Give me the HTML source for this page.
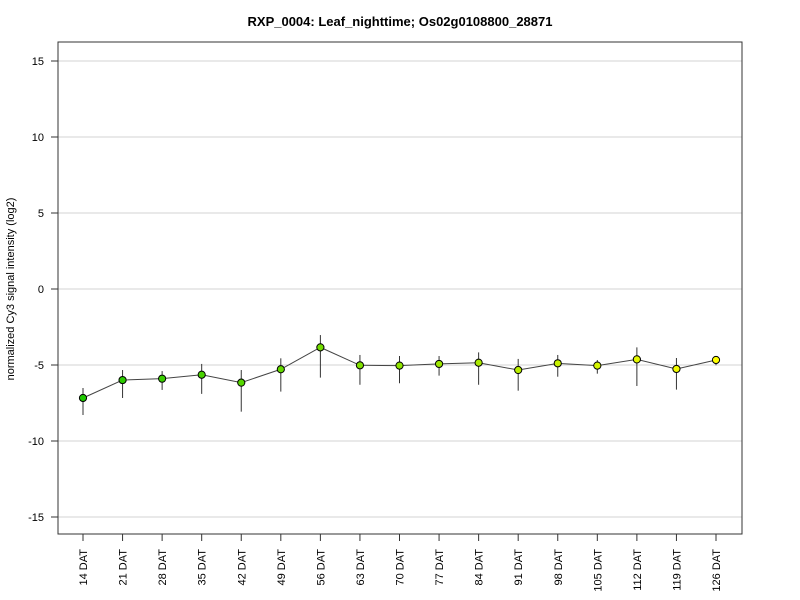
<!DOCTYPE html>
<html><head><meta charset="utf-8"><style>body{margin:0;background:#fff}svg{display:block;font-family:"Liberation Sans",Arial,sans-serif}</style></head>
<body>
<svg id="chart" width="800" height="600">
<text x="400" y="26" text-anchor="middle" font-size="13" font-weight="bold">RXP_0004: Leaf_nighttime; Os02g0108800_28871</text>
<text transform="translate(14,289) rotate(-90)" text-anchor="middle" font-size="11">normalized Cy3 signal intensity (log2)</text>
<g id="grid"></g><g id="axes"></g><g id="series"></g>
<rect x="58" y="42" width="684" height="492" fill="none" stroke="#333" stroke-width="1"/>
</svg>
<script>
const categories=["14 DAT","21 DAT","28 DAT","35 DAT","42 DAT","49 DAT","56 DAT","63 DAT","70 DAT","77 DAT","84 DAT","91 DAT","98 DAT","105 DAT","112 DAT","119 DAT","126 DAT"];
const values=[-7.17,-5.99,-5.9,-5.64,-6.16,-5.28,-3.84,-5.02,-5.04,-4.93,-4.85,-5.33,-4.89,-5.04,-4.63,-5.26,-4.67];
const errHigh=[-6.51,-5.33,-5.4,-4.93,-5.33,-4.56,-3.03,-4.34,-4.41,-4.41,-4.17,-4.6,-4.34,-4.67,-3.84,-4.54,-4.41];
const errLow=[-8.29,-7.17,-6.64,-6.9,-8.07,-6.75,-5.83,-6.3,-6.2,-5.7,-6.3,-6.69,-5.77,-5.57,-6.38,-6.62,-5.02];
const yTicks=[-15,-10,-5,0,5,10,15];
const NS="http://www.w3.org/2000/svg";
function x(i){return 83+i*(716-83)/(categories.length-1);}
function y(v){return 289-v*15.2;}
function mk(t,a,p){const e=document.createElementNS(NS,t);for(const k in a)e.setAttribute(k,a[k]);p.appendChild(e);return e;}
const grid=document.getElementById('grid'),axes=document.getElementById('axes'),ser=document.getElementById('series');
yTicks.forEach(t=>{
 const g=mk('line',{x1:58,x2:742,y1:y(t),y2:y(t),stroke:'#d3d3d3','stroke-width':1},grid);
 
 
 const tk=mk('line',{x1:51,x2:58,y1:y(t),y2:y(t),stroke:'#333'},axes);
 
 
 const l=mk('text',{x:44,y:y(t)+4,'text-anchor':'end','font-size':11},axes);
 l.textContent=t;
 
 
});
categories.forEach((c,i)=>{
 const tk=mk('line',{x1:x(i),x2:x(i),y1:534,y2:541,stroke:'#333'},axes);
 
 
 const l=mk('text',{transform:`translate(${x(i)+4},549) rotate(-90)`,'text-anchor':'end','font-size':11},axes);
 l.textContent=c;
 
 
});
const pl=mk('polyline',{points:values.map((v,i)=>x(i)+','+y(v)).join(' '),fill:'none',stroke:'#444','stroke-width':1},ser);


values.forEach((v,i)=>{
 const e=mk('line',{x1:x(i),x2:x(i),y1:y(errHigh[i]),y2:y(errLow[i]),stroke:'#333','stroke-width':1},ser);
 
 
 const f=i/(categories.length-1);
 const col=`rgb(${Math.round(30+f*225)},${Math.round(200+f*55)},0)`;
 const p=mk('circle',{cx:x(i),cy:y(v),r:3.6,fill:col,stroke:'#000','stroke-width':1},ser);
 
 
});
</script>
</body></html>
